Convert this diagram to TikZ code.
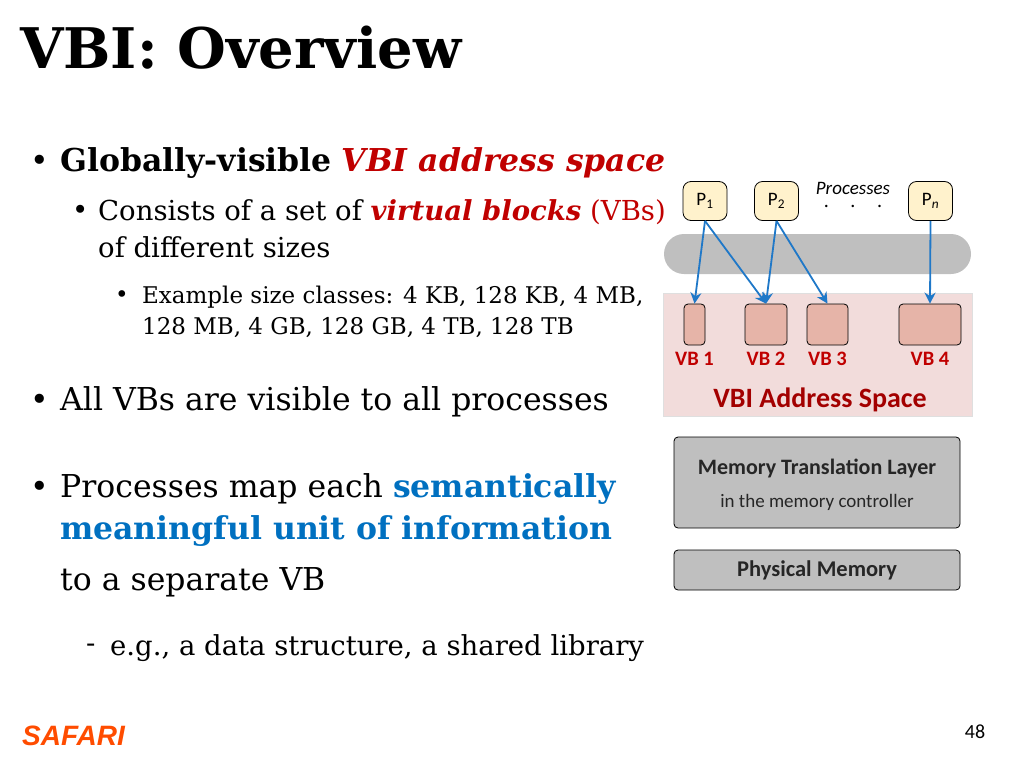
\documentclass[tikz,border=0pt]{standalone}
\usetikzlibrary{arrows.meta}
\usepackage{fontspec}
\setmainfont{DejaVu Serif}
\newfontfamily\calib{Carlito}
\definecolor{vbred}{HTML}{C00000}
\definecolor{vbblue}{HTML}{0070C0}
\definecolor{arrblue}{HTML}{1F78C8}
\definecolor{vbfill}{HTML}{E6B4A8}
\definecolor{asfill}{HTML}{F2DCDB}
\definecolor{pfill}{HTML}{FFF2CC}
\definecolor{gfill}{HTML}{BFBFBF}
\begin{document}
\begin{tikzpicture}[x=1pt,y=-1pt,
  pbox/.style={draw,rounded corners=8pt,fill=pfill,line width=0.8pt,minimum width=44pt,minimum height=39pt,font=\calib\fontsize{19}{19}\selectfont},
  vb/.style={draw,rounded corners=4pt,fill=vbfill,line width=0.8pt,minimum height=41pt},
  vbl/.style={text=vbred,font=\calib\bfseries\fontsize{20.5}{20.5}\selectfont},
  gbox/.style={draw,rounded corners=4pt,fill=gfill,line width=0.8pt,minimum width=286pt},
  arr/.style={-{Stealth[length=11pt,width=11pt]},draw=arrblue,line width=1.8pt},
  txt/.style={anchor=west,inner sep=0pt,font=\fontsize{31.5}{31.5}\selectfont},
  stxt/.style={anchor=west,inner sep=0pt,font=\fontsize{27.5}{27.5}\selectfont},
  sstxt/.style={anchor=west,inner sep=0pt,font=\fontsize{23}{23}\selectfont}]
\useasboundingbox (0,0) rectangle (1024,768);
\node[anchor=west,inner sep=0pt,font=\bfseries\fontsize{56}{56}\selectfont] (title) at (20,48) {VBI: Overview};
\node[txt] (bb1) at (30,163) {•};
\node[txt] (b1) at (60,163) {\textbf{Globally-visible} \textcolor{vbred}{\textbf{\textit{VBI address space}}}};
\node[stxt] (bs1) at (72,212) {•};
\node[stxt] (s1) at (98,212) {Consists of a set of \textcolor{vbred}{\textbf{\textit{virtual blocks}}} \textcolor{vbred}{(VBs)}};
\node[stxt] (s1b) at (98,247) {of different sizes};
\node[sstxt] (bss1) at (115,297) {•};
\node[sstxt] (ss1) at (142,297) {Example size classes: 4 KB, 128 KB, 4 MB,};
\node[sstxt] (ss1b) at (142,328) {128 MB, 4 GB, 128 GB, 4 TB, 128 TB};
\node[txt] (bb2) at (30,402) {•};
\node[txt] (b2) at (60,402) {All VBs are visible to all processes};
\node[txt] (bb3) at (30,489) {•};
\node[txt] (b3) at (60,489) {Processes map each \textcolor{vbblue}{\textbf{semantically}}};
\node[txt] (b3b) at (60,531) {\textcolor{vbblue}{\textbf{meaningful unit of information}}};
\node[txt] (b3c) at (60,582) {to a separate VB};
\node[stxt] (dd1) at (86,648) {-};
\node[stxt] (d1) at (110,648) {e.g., a data structure, a shared library};
\node[anchor=west,inner sep=0pt,text=orange!60!red,font=\fontspec{Liberation Sans}\bfseries\itshape\fontsize{28}{28}\selectfont] (saf) at (22,736) {SAFARI};
\node[font=\calib\fontsize{20}{20}\selectfont] (pg) at (975,732) {48};
% diagram
\node[draw=none,fill=gfill,rounded corners=20pt,minimum width=307pt,minimum height=40pt] (bar) at (817.5,254) {};
\node[fill=asfill,draw=gray!25,minimum width=309pt,minimum height=123pt] (as) at (817.5,354.5) {};
\node[pbox] (p1) at (705,201) {P\textsubscript{1}};
\node[pbox] (p2) at (776.5,201) {P\textsubscript{2}};
\node[pbox] (pn) at (930.5,201) {P\textsubscript{{\itshape n}}};
\node[inner sep=0pt,font=\calib\itshape\fontsize{19}{19}\selectfont] (proc) at (853,188) {Processes};
\node[inner sep=0pt,font=\bfseries\fontsize{13}{13}\selectfont] (dots) at (853,206) {.\hspace{22pt}.\hspace{22pt}.};
\node[vb,minimum width=21pt] (v1) at (694.5,324.5) {};
\node[vb,minimum width=42pt] (v2) at (766,324.5) {};
\node[vb,minimum width=41pt] (v3) at (827.5,324.5) {};
\node[vb,minimum width=62pt] (v4) at (930,324.5) {};
\node[vbl] (l1) at (694.5,359) {VB 1};
\node[vbl] (l2) at (766,359) {VB 2};
\node[vbl] (l3) at (827.5,359) {VB 3};
\node[vbl] (l4) at (930,359) {VB 4};
\node[text=vbred!85!black,font=\calib\bfseries\fontsize{28}{28}\selectfont] (asl) at (820,400) {VBI Address Space};
\draw[arr] (p1.south) -- (v1.north);
\draw[arr] (p1.south) -- (v2.north);
\draw[arr] (p2.south) -- (v2.north);
\draw[arr] (p2.south) -- (v3.north);
\draw[arr] (pn.south) -- (v4.north);
\node[gbox,minimum height=91pt] (mtl) at (817,482.5) {};
\node[text=gray!30!black,font=\calib\bfseries\fontsize{22}{22}\selectfont] (mtlt) at (817,468) {Memory Translation Layer};
\node[text=gray!30!black,font=\calib\fontsize{19}{19}\selectfont] (mtls) at (817,502) {in the memory controller};
\node[gbox,minimum height=40pt,text=gray!30!black,font=\calib\bfseries\fontsize{22.5}{22.5}\selectfont] (pm) at (817,570) {Physical Memory};
\end{tikzpicture}
\end{document}
